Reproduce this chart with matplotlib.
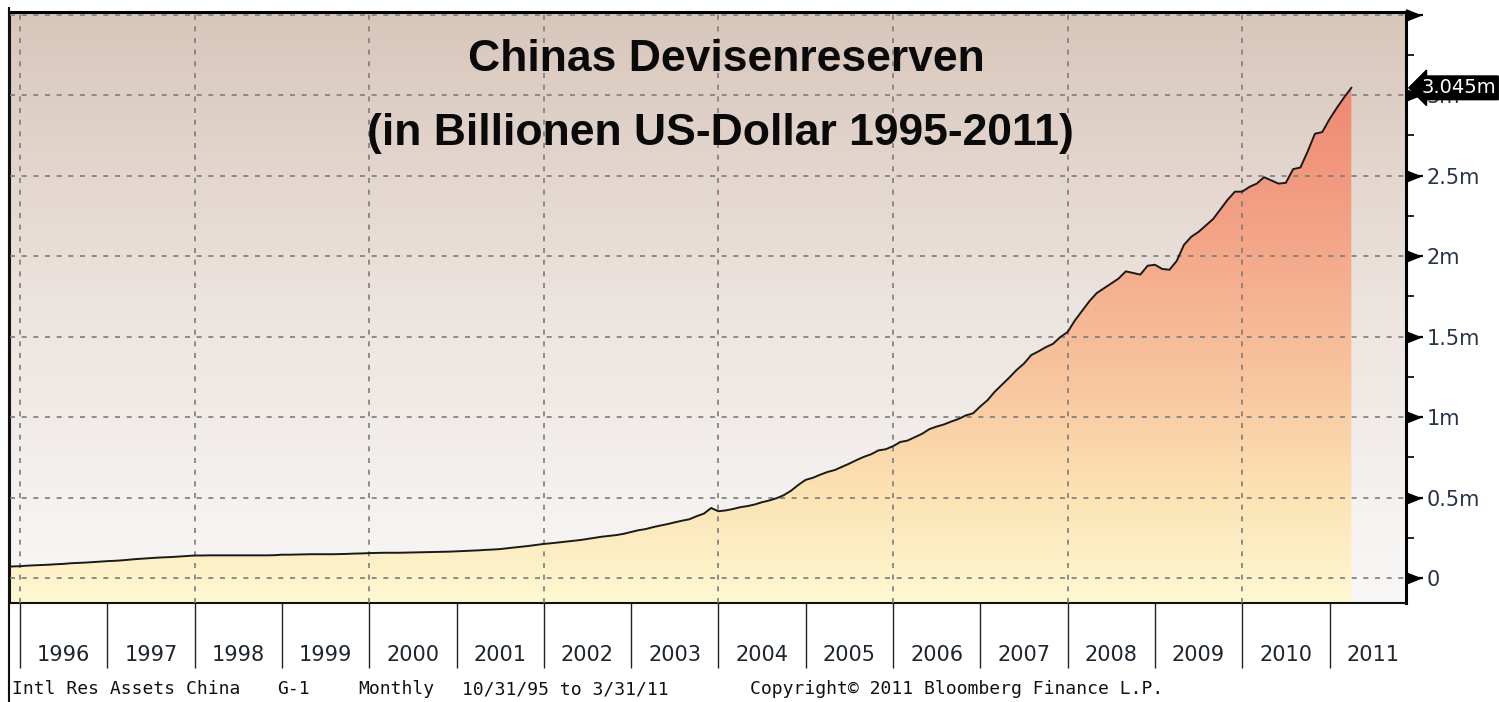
import matplotlib.pyplot as plt
import matplotlib.transforms as mtransforms
from matplotlib.colors import LinearSegmentedColormap
from matplotlib.path import Path
import numpy as np

# monthly international reserve assets, China, USD bn (end of month)
res_1995 = [70.8, 72.2, 73.6]                      # Oct - Dec
res_1996 = [77, 79, 81, 83, 86, 88, 92, 94, 96, 99, 102, 105]
res_1997 = [107, 110, 114, 118, 121, 124, 127, 129, 131, 134, 137, 140]
res_1998 = [140, 141, 141, 141, 141, 141, 141, 141, 141, 141, 142, 145]
res_1999 = [145, 146, 147, 148, 148, 148, 148, 149, 150, 152, 153, 155]
res_2000 = [156, 157, 157, 157, 158, 159, 160, 161, 162, 163, 164, 166]
res_2001 = [168, 170, 172, 175, 177, 180, 185, 190, 195, 200, 206, 212]
res_2002 = [216, 221, 226, 231, 236, 243, 250, 257, 262, 267, 275, 286]
res_2003 = [297, 304, 316, 326, 335, 346, 356, 365, 384, 400, 435, 415]
res_2004 = [420, 429, 440, 447, 457, 471, 482, 496, 515, 543, 579, 610]
res_2005 = [623, 642, 659, 671, 691, 711, 733, 753, 769, 793, 800, 819]
res_2006 = [845, 854, 875, 896, 925, 941, 954, 972, 988, 1010, 1023, 1066]
res_2007 = [1105, 1158, 1202, 1246, 1293, 1332, 1385, 1408, 1434, 1455, 1497, 1528]
res_2008 = [1600, 1660, 1720, 1770, 1800, 1830, 1860, 1905, 1895, 1885, 1940, 1946]
res_2009 = [1920, 1915, 1970, 2070, 2120, 2150, 2190, 2230, 2290, 2350, 2400, 2400]
res_2010 = [2430, 2450, 2490, 2470, 2450, 2455, 2540, 2550, 2650, 2760, 2770, 2850]
res_2011 = [2920, 2985, 3045]                      # Jan - Mar

years = list(range(1996, 2012))
year_labels = [str(y) for y in years]
y_ticks = [0, 0.5, 1, 1.5, 2, 2.5, 3, 3.5]
y_labels = ["0", "0.5m", "1m", "1.5m", "2m", "2.5m", "3m", ""]
last_label = "3.045m"

title_1 = "Chinas Devisenreserven"
title_2 = "(in Billionen US-Dollar 1995-2011)"
footer = [("Intl Res Assets China", 12), ("G-1", 277), ("Monthly", 358),
          ("10/31/95 to 3/31/11", 462), ("Copyright\u00a9 2011 Bloomberg Finance L.P.", 750)]

values = np.array(res_1995 + res_1996 + res_1997 + res_1998 + res_1999 + res_2000 +
                  res_2001 + res_2002 + res_2003 + res_2004 + res_2005 + res_2006 +
                  res_2007 + res_2008 + res_2009 + res_2010 + res_2011) / 1000.0
t = 1995 + 10 / 12 + np.arange(len(values)) / 12.0

W, H = 1499, 702
fig = plt.figure(figsize=(W / 100, H / 100), dpi=100)
fig.patch.set_facecolor("white")
ax = fig.add_axes([10 / W, (H - 603) / H, 1396 / W, 591 / H])

xmin, xmax = 1996 - 10 / 87.3, 1996 + 1386 / 87.3
ymin, ymax = -0.155, 3.516
ax.set_xlim(xmin, xmax)
ax.set_ylim(ymin, ymax)

# background: warm grey at the top fading to white
bg = LinearSegmentedColormap.from_list("bg", ["#f9f8f7", "#ece4df", "#d8c6ba"])
grad = np.linspace(0, 1, 256).reshape(-1, 1)
ax.imshow(grad, cmap=bg, origin="lower", aspect="auto",
          extent=[xmin, xmax, ymin, ymax], zorder=0)

# area under the curve: yellow -> orange -> salmon by height
fill_cmap = LinearSegmentedColormap.from_list(
    "fill", [(0.0, "#fff8d2"), (0.2, "#fce3b4"), (0.4, "#f8c7a0"),
             (0.7, "#f3a286"), (1.0, "#ee8470")])
poly = ax.fill_between(t, ymin, values, color="none", lw=0)
img = ax.imshow(grad, cmap=fill_cmap, origin="lower", aspect="auto",
                extent=[xmin, xmax, ymin, 3.2], zorder=1)
img.set_clip_path(poly.get_paths()[0], transform=ax.transData)
ax.plot(t, values, color="#1a1a1a", lw=1.4, zorder=4)

# dashed grid
for y in y_ticks:
    ax.axhline(y, color="#7c7c7c", lw=1.2, ls=(0, (3, 4)), zorder=3)
for x in range(1996, 2012, 2):
    ax.axvline(x, color="#7c7c7c", lw=1.2, ls=(0, (3, 4)), zorder=3)

for s in ["left", "bottom"]:
    ax.spines[s].set_linewidth(1.5)
    ax.spines[s].set_color("#111111")
ax.spines["top"].set_linewidth(2.2)
ax.spines["top"].set_color("#000000")
ax.spines["right"].set_linewidth(2.2)
ax.spines["right"].set_color("#000000")

# x axis: year separators reaching down into the label strip
ax.set_xticks(years)
ax.set_xticklabels([])
ax.tick_params(axis="x", direction="out", length=47, width=1.0, color="#222222")
xt = mtransforms.blended_transform_factory(ax.transData, ax.transAxes)
for y, lab in zip(years, year_labels):
    ax.text(y + 0.5, -52 / 591, lab, transform=xt, ha="center", va="center",
            fontsize=15, color="#1e2530", family="DejaVu Sans")

# right hand value axis
ax.yaxis.tick_right()
ax.set_yticks(y_ticks)
ax.set_yticklabels(y_labels)
ax.set_yticks(np.arange(0.25, 3.5, 0.5), minor=True)
ax.tick_params(axis="y", which="major", length=12, width=1.6, pad=3,
               labelsize=15, labelcolor="#28344a", color="#000000")
ax.tick_params(axis="y", which="minor", length=6, width=1.2, color="#000000")
yt = mtransforms.blended_transform_factory(ax.transAxes, ax.transData)
flag = Path([(0, -0.6), (0, 0.6), (1.5, 0), (0, -0.6)],
            [Path.MOVETO, Path.LINETO, Path.LINETO, Path.CLOSEPOLY])
ax.plot([1] * len(y_ticks), y_ticks, ls="none", marker=flag, markersize=20,
        color="#000000", transform=yt, clip_on=False, zorder=6)

# last value tag
ax.annotate(last_label, xy=(1, values[-1]), xycoords=yt, xytext=(11, 0),
            textcoords="offset points", ha="left", va="center", fontsize=14,
            color="white", family="DejaVu Sans", zorder=7, annotation_clip=False,
            bbox=dict(boxstyle="larrow,pad=0.12", fc="#000000", ec="#000000"))

ax.text(0.513, 0.919, title_1, transform=ax.transAxes,
        ha="center", va="center", fontsize=32, fontweight="bold",
        family="Liberation Sans", color="#0a0a0a", zorder=5)
ax.text(0.509, 0.795, title_2, transform=ax.transAxes,
        ha="center", va="center", fontsize=32, fontweight="bold",
        family="Liberation Sans", color="#0a0a0a", zorder=5)

# left border continues down past the label strip
fig.add_artist(plt.Line2D([9 / W, 9 / W], [0, (H - 8) / H], color="#111111", lw=1.5))

for text, px in footer:
    fig.text(px / W, 1 - 689 / H, text, ha="left", va="center", fontsize=13,
             family="DejaVu Sans Mono", color="#111111")

fig.savefig("out.png", dpi=100)
